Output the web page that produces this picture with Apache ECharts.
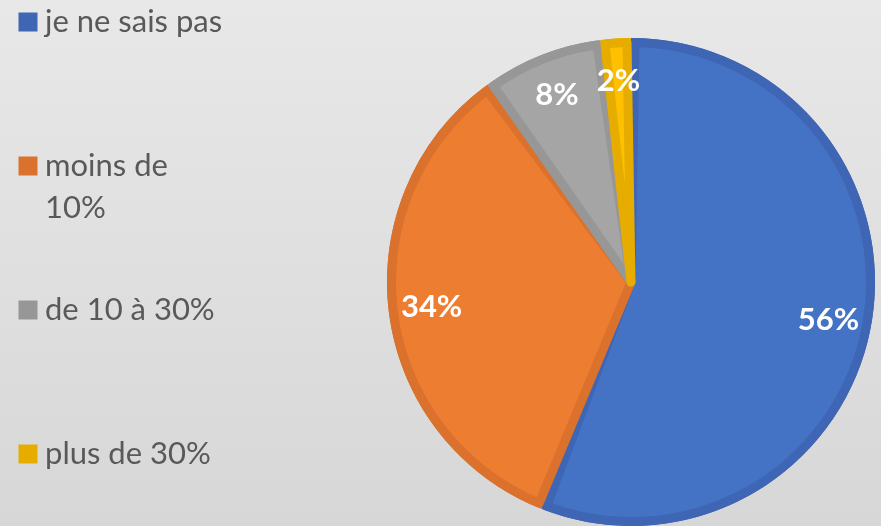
<!DOCTYPE html>
<html><head><meta charset="utf-8">
<script src="https://cdn.jsdelivr.net/npm/echarts@6/dist/echarts.min.js"></script>
<style>html,body{margin:0;padding:0;background:#e2e2e2;}#c{width:881px;height:526px;}</style>
</head><body><div id="c"></div>
<script>
// ---- data ----
const categories = ['je ne sais pas', 'moins de 10%', 'de 10 à 30%', 'plus de 30%'];
const values = [56, 34, 8, 2];
const lightColors = ['#4472C4', '#ED7D31', '#A5A5A5', '#FFC000'];
const darkColors = ['#3E66B4', '#DA712C', '#979797', '#E6AD00'];
const legendIconCenters = [22, 166, 310, 454];

// ---- chart ----
const chart = echarts.init(document.getElementById('c'), null, {renderer: 'canvas'});
const CX = 631, CY = 282, R = 244;
const font = 'Lato, "Noto Sans", sans-serif';
const LH = 42;

const darkData = categories.map((n, i) => ({name: n, value: values[i], itemStyle: {color: darkColors[i]}}));
const lightData = categories.map((n, i) => ({name: n, value: values[i], itemStyle: {color: lightColors[i], borderColor: darkColors[i]}}));
const labelData = categories.map((n, i) => ({name: n, value: values[i]}));

const legends = categories.map((n, i) => {
  const twoLine = i === 1;
  return {
    data: [n],
    orient: 'vertical',
    left: 18.5,
    top: twoLine ? legendIconCenters[i] - 1.5 * LH : legendIconCenters[i] - LH / 2,
    padding: 0,
    icon: 'path://M0,0H19V19H0Z',
    symbolKeepAspect: true,
    itemWidth: 24,
    itemHeight: 19,
    selectedMode: false,
    itemStyle: {borderWidth: 0},
    // the wrapped entry keeps its first line level with the square
    formatter: twoLine ? (name) => '\n' + name.replace(' 10%', '\n10%') : '{name}',
    textStyle: {fontFamily: font, fontSize: 31, color: '#595959', lineHeight: LH}
  };
});

chart.setOption({
  animation: false,
  backgroundColor: new echarts.graphic.LinearGradient(0, 0, 0, 1, [
    {offset: 0, color: '#E8E8E8'}, {offset: 1, color: '#D7D7D7'}
  ]),
  legend: legends,
  series: [
    {
      type: 'pie', center: [CX, CY], radius: [0, R], startAngle: 90, clockwise: true,
      silent: true, label: {show: false}, labelLine: {show: false},
      emphasis: {disabled: true}, data: darkData
    },
    {
      type: 'pie', center: [CX, CY], radius: [0, R - 4.5], startAngle: 90, clockwise: true,
      padAngle: 1.9, silent: true, label: {show: false}, labelLine: {show: false},
      itemStyle: {borderWidth: 9, borderJoin: 'round'},
      emphasis: {disabled: true}, data: lightData
    },
    {
      type: 'pie', center: [CX, CY], radius: [152, R], startAngle: 90, clockwise: true,
      silent: true, itemStyle: {color: 'rgba(0,0,0,0)'},
      label: {show: true, position: 'inside', formatter: '{c}%', color: '#ffffff',
        fontFamily: font, fontWeight: 'bold', fontSize: 31},
      labelLine: {show: false}, emphasis: {disabled: true}, data: labelData
    }
  ]
});
</script>
</body></html>
